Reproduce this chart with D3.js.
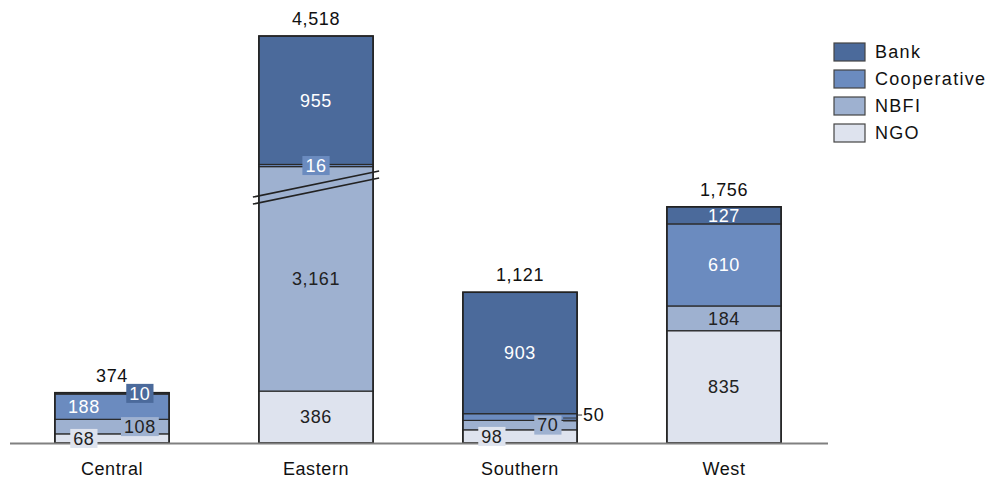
<!DOCTYPE html>
<html>
<head>
<meta charset="utf-8">
<script src="https://cdn.jsdelivr.net/npm/d3@7/dist/d3.min.js"></script>
<style>
  body { margin: 0; background: #fff; }
  svg text { font-family: Arial, "Liberation Sans", sans-serif; }
</style>
</head>
<body>
<div class="chart"></div>
<script>
// data
var categories = ['Central', 'Eastern', 'Southern', 'West']
  , series = ['NGO', 'NBFI', 'Cooperative', 'Bank']
  , ngo = [68, 386, 98, 835]
  , nbfi = [108, 3161, 70, 184]
  , cooperative = [188, 16, 50, 610]
  , bank = [10, 955, 903, 127]
  , totals = [374, 4518, 1121, 1756]
  , legendOrder = ['Bank', 'Cooperative', 'NBFI', 'NGO'];

// the Eastern NBFI bar is drawn with a broken axis: this many units are cut out
var breakCategory = 'Eastern'
  , breakSeries = 'NBFI'
  , breakCut = 1492;

// how small segments get their labels
var labelMode = {
  Central: { NGO: 'leftBox', NBFI: 'rightBox', Cooperative: 'left', Bank: 'rightBox' },
  Eastern: { Cooperative: 'box' },
  Southern: { NGO: 'leftBox', NBFI: 'rightBox', Cooperative: 'outside' }
};

var values = { NGO: ngo, NBFI: nbfi, Cooperative: cooperative, Bank: bank };

var colors = {
  Bank: '#4b6a9b',
  Cooperative: '#6b8bbf',
  NBFI: '#9eb1d0',
  NGO: '#dee3ee'
};
var lightText = { Bank: true, Cooperative: true };

var w = 987
  , h = 479
  , baseY = 443;

var svg = d3.select('.chart')
            .append('svg')
            .attr('width', w)
            .attr('height', h);

var x = d3.scaleBand()
          .domain(categories)
          .range([10, 826])
          .paddingInner(0.44)
          .paddingOuter(0.22);

var y = d3.scaleLinear()
          .domain([0, 3026])
          .range([baseY, 36]);

var fmt = d3.format(',');

// build stacked segments
var segments = [];
categories.forEach(function (cat, i) {
  var base = 0;
  series.forEach(function (s) {
    var v = values[s][i]
      , drawn = v;
    if (cat === breakCategory && s === breakSeries) drawn = v - breakCut;
    segments.push({ cat: cat, series: s, value: v, y0: base, y1: base + drawn });
    base += drawn;
  });
});

var bw = x.bandwidth();

svg.selectAll('rect.seg')
    .data(segments)
    .enter()
    .append('rect')
    .attr('class', 'seg')
    .attr('x', function (d) { return x(d.cat); })
    .attr('y', function (d) { return y(d.y1); })
    .attr('width', bw)
    .attr('height', function (d) { return y(d.y0) - y(d.y1); })
    .attr('fill', function (d) { return colors[d.series]; })
    .attr('stroke', '#2a2a2a')
    .attr('stroke-width', 1.2);

// bar outlines
categories.forEach(function (cat) {
  var top = d3.max(segments.filter(function (d) { return d.cat === cat; }), function (d) { return d.y1; });
  svg.append('rect')
      .attr('x', x(cat))
      .attr('y', y(top))
      .attr('width', bw)
      .attr('height', baseY - y(top))
      .attr('fill', 'none')
      .attr('stroke', '#222')
      .attr('stroke-width', 1.6);
});

// break marks
var brk = segments.filter(function (d) { return d.cat === breakCategory && d.series === breakSeries; })[0]
  , midY = y(brk.y1) + 21
  , bx0 = x(breakCategory) - 6
  , bx1 = x(breakCategory) + bw + 6;
[-3.5, 3.5].forEach(function (off) {
  svg.append('line')
      .attr('x1', bx0).attr('y1', midY + 13 + off)
      .attr('x2', bx1).attr('y2', midY - 13 + off)
      .attr('stroke', '#222')
      .attr('stroke-width', 1.5);
});

// axis line
svg.append('line')
    .attr('x1', 10).attr('x2', 828)
    .attr('y1', baseY + 0.5).attr('y2', baseY + 0.5)
    .attr('stroke', '#808080')
    .attr('stroke-width', 2);

// segment labels
segments.forEach(function (d) {
  var mode = (labelMode[d.cat] || {})[d.series] || 'center'
    , cx = x(d.cat) + bw / 2
    , cy = (y(d.y0) + y(d.y1)) / 2
    , txtColor = lightText[d.series] ? '#fff' : '#222'
    , label = fmt(d.value);

  if (mode === 'left' || mode === 'leftBox') cx = x(d.cat) + 29;
  if (mode === 'rightBox') cx = x(d.cat) + 85;

  if (mode === 'outside') {
    var ox = x(d.cat) + bw;
    svg.append('line').attr('x1', ox - 14).attr('x2', ox + 1)
        .attr('y1', cy + 1).attr('y2', cy + 1).attr('stroke', '#333').attr('stroke-width', 1);
    svg.append('line').attr('x1', ox - 14).attr('x2', ox + 1)
        .attr('y1', cy + 4).attr('y2', cy + 4).attr('stroke', '#333').attr('stroke-width', 1);
    svg.append('line').attr('x1', ox).attr('x2', ox + 5)
        .attr('y1', cy - 2).attr('y2', cy - 2).attr('stroke', '#333').attr('stroke-width', 1);
    svg.append('text')
        .attr('x', ox + 6)
        .attr('y', cy - 2)
        .attr('dy', '0.35em')
        .attr('font-size', 18)
        .attr('letter-spacing', 0.6)
        .attr('fill', '#111')
        .text(label);
    return;
  }

  var t = svg.append('text')
      .attr('x', cx)
      .attr('y', cy)
      .attr('dy', '0.35em')
      .attr('text-anchor', 'middle')
      .attr('font-size', 18)
      .attr('letter-spacing', 0.6)
      .attr('fill', txtColor)
      .text(label);

  if (/box/i.test(mode)) {
    var bb = t.node().getBBox();
    svg.insert('rect', function () { return t.node(); })
        .attr('x', cx - bb.width / 2 - 3)
        .attr('y', cy - 9.5)
        .attr('width', bb.width + 6)
        .attr('height', 19)
        .attr('fill', colors[d.series]);
  }
});

// totals
categories.forEach(function (cat, i) {
  var top = d3.max(segments.filter(function (d) { return d.cat === cat; }), function (d) { return d.y1; });
  svg.append('text')
      .attr('x', x(cat) + bw / 2)
      .attr('y', y(top) - 11)
      .attr('text-anchor', 'middle')
      .attr('font-size', 18)
      .attr('letter-spacing', 0.6)
      .attr('fill', '#111')
      .text(fmt(totals[i]));
});

// category labels
svg.selectAll('text.cat')
    .data(categories)
    .enter()
    .append('text')
    .attr('class', 'cat')
    .attr('x', function (d) { return x(d) + bw / 2; })
    .attr('y', 475)
    .attr('text-anchor', 'middle')
    .attr('font-size', 18)
    .attr('letter-spacing', 0.6)
    .attr('fill', '#111')
    .text(function (d) { return d; });

// legend
var legend = svg.selectAll('g.legend')
    .data(legendOrder)
    .enter()
    .append('g')
    .attr('class', 'legend')
    .attr('transform', function (d, i) { return 'translate(834,' + (43 + i * 27) + ')'; });

legend.append('rect')
    .attr('width', 31)
    .attr('height', 18)
    .attr('fill', function (d) { return colors[d]; })
    .attr('stroke', '#444')
    .attr('stroke-width', 1.2);

legend.append('text')
    .attr('x', 41)
    .attr('y', 9)
    .attr('dy', '0.35em')
    .attr('font-size', 18)
    .attr('letter-spacing', 1.3)
    .attr('fill', '#111')
    .text(function (d) { return d; });
</script>
</body>
</html>
